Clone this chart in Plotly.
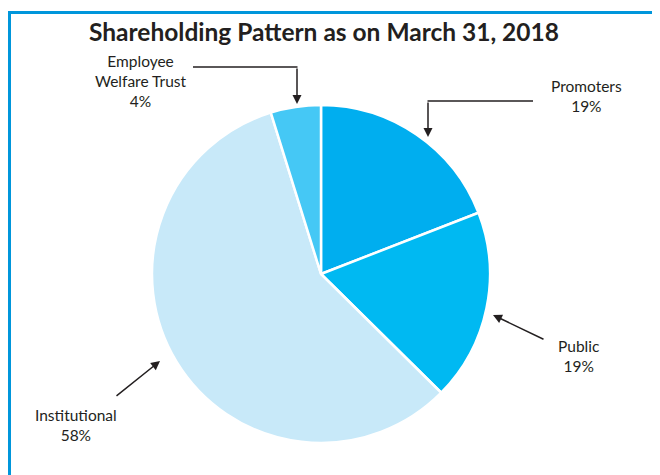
import plotly.graph_objects as go

categories = ["Promoters", "Public", "Institutional", "Employee Welfare Trust"]
values = [19.1, 18.3, 57.8, 4.8]
label_pct = ["19%", "19%", "58%", "4%"]
colors = ["#00AEEF", "#00B9F2", "#C8E9F9", "#45C8F5"]

W, H = 660, 475
OFF = 8  # page body margin offset
def px(x):
    return (x - OFF) / W
def py(y):
    return 1 - (y - OFF) / H

cx, cy, r = 321, 274, 169
fig = go.Figure(go.Pie(
    labels=categories, values=values, sort=False, direction="clockwise",
    rotation=0, textinfo="none", hoverinfo="label+percent",
    marker=dict(colors=colors, line=dict(color="white", width=2.5)),
    domain=dict(x=[px(cx - r), px(cx + r)], y=[py(cy + r), py(cy - r)]),
    showlegend=False,
))

TXT = "#231F20"
font = dict(family="Lato, Open Sans, sans-serif", size=15.5, color=TXT)

annotations = [
    dict(x=px(141), y=py(81), text=f"Employee<br>Welfare Trust<br>{label_pct[3]}",
         showarrow=False, font=font, xanchor="center", yanchor="middle", align="center"),
    dict(x=px(586), y=py(96), text=f"{categories[0]}<br>{label_pct[0]}",
         showarrow=False, font=font, xanchor="center", yanchor="middle", align="center"),
    dict(x=px(579), y=py(356), text=f"{categories[1]}<br>{label_pct[1]}",
         showarrow=False, font=font, xanchor="center", yanchor="middle", align="center"),
    dict(x=px(76), y=py(425), text=f"{categories[2]}<br>{label_pct[2]}",
         showarrow=False, font=font, xanchor="center", yanchor="middle", align="center"),
    # arrows
    dict(x=px(297), y=py(104), ax=0, ay=-37, text="", showarrow=True,
         arrowhead=2, arrowsize=1.2, arrowwidth=1.5, arrowcolor=TXT),
    dict(x=px(428), y=py(137), ax=0, ay=-36, text="", showarrow=True,
         arrowhead=2, arrowsize=1.2, arrowwidth=1.5, arrowcolor=TXT),
    dict(x=px(493), y=py(315), ax=52, ay=25, text="", showarrow=True,
         arrowhead=2, arrowsize=1.2, arrowwidth=1.5, arrowcolor=TXT),
    dict(x=px(160), y=py(361), ax=-45, ay=36, text="", showarrow=True,
         arrowhead=2, arrowsize=1.2, arrowwidth=1.5, arrowcolor=TXT),
]
for a in annotations:
    a["xref"] = "paper"
    a["yref"] = "paper"

shapes = [
    dict(type="line", xref="paper", yref="paper", x0=px(193), y0=py(67), x1=px(297.5), y1=py(67),
         line=dict(color=TXT, width=1.5)),
    dict(type="line", xref="paper", yref="paper", x0=px(533), y0=py(101), x1=px(427.5), y1=py(101),
         line=dict(color=TXT, width=1.5)),
    # border (top and left)
    dict(type="path", xref="paper", yref="paper",
         path=f"M {px(9.5)},{py(490)} L {px(9.5)},{py(12.5)} L {px(680)},{py(12.5)}",
         line=dict(color="#0096DB", width=3)),
]

fig.update_layout(
    width=W, height=H,
    margin=dict(l=0, r=0, t=0, b=0),
    paper_bgcolor="white", plot_bgcolor="white",
    title=dict(text="<b>Shareholding Pattern as on March 31, 2018</b>",
               x=px(324), y=py(32), xanchor="center", yanchor="middle",
               font=dict(family="Lato, Open Sans, sans-serif", size=24.5, color=TXT)),
    annotations=annotations, shapes=shapes,
)

fig.write_html("out.html")
